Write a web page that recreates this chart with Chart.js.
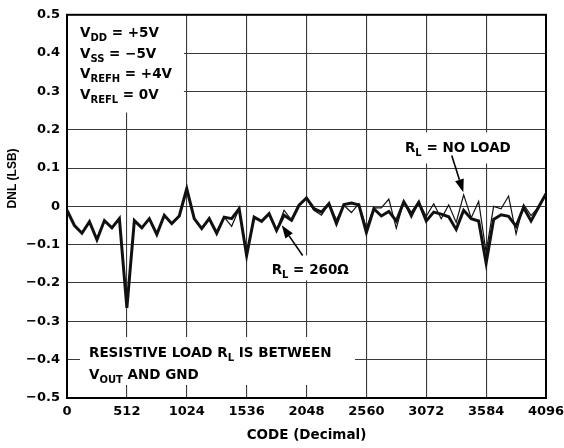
<!DOCTYPE html>
<html>
<head>
<meta charset="utf-8">
<script src="https://cdn.jsdelivr.net/npm/chart.js@4.4.1/dist/chart.umd.min.js"></script>
<style>
  html, body { margin: 0; padding: 0; background: #fff; }
  canvas { display: block; }
</style>
</head>
<body>
<canvas id="c" width="564" height="448"></canvas>
<script>
// ---- data ----
const codes = [0,64,128,192,256,320,384,448,512,576,640,704,768,832,896,960,1024,
  1088,1152,1216,1280,1344,1408,1472,1536,1600,1664,1728,1792,1856,1920,1984,2048,
  2112,2176,2240,2304,2368,2432,2496,2560,2624,2688,2752,2816,2880,2944,3008,3072,
  3136,3200,3264,3328,3392,3456,3520,3584,3648,3712,3776,3840,3904,3968,4032,4096];

const dnl260 = [-0.010,-0.050,-0.070,-0.040,-0.087,-0.037,-0.056,-0.032,-0.265,
  -0.037,-0.056,-0.032,-0.073,-0.023,-0.045,-0.025,0.046,
  -0.032,-0.058,-0.032,-0.070,-0.028,-0.032,-0.006,-0.128,
  -0.028,-0.039,-0.019,-0.063,-0.023,-0.036,0.003,0.022,
  -0.006,-0.015,0.007,-0.045,0.005,0.009,0.004,-0.068,
  -0.006,-0.025,-0.013,-0.038,0.012,-0.020,0.011,-0.038,
  -0.015,-0.020,-0.027,-0.060,-0.010,-0.032,-0.038,-0.148,
  -0.034,-0.022,-0.026,-0.052,-0.003,-0.038,-0.002,0.033];

const dnlNoLoad = [-0.010,-0.050,-0.070,-0.040,-0.087,-0.037,-0.056,-0.032,-0.265,
  -0.037,-0.056,-0.032,-0.073,-0.023,-0.045,-0.025,0.046,
  -0.032,-0.058,-0.032,-0.070,-0.028,-0.052,-0.006,-0.122,
  -0.028,-0.039,-0.019,-0.063,-0.010,-0.036,0.003,0.022,
  -0.010,-0.023,0.007,-0.035,0.003,-0.016,0.007,-0.056,
  -0.004,-0.004,0.019,-0.057,0.013,-0.030,0.011,-0.026,
  0.007,-0.032,0.004,-0.042,0.030,-0.030,0.013,-0.120,
  0.000,-0.006,0.027,-0.072,0.005,-0.024,-0.002,0.033];

const xTickValues = [0,512,1024,1536,2048,2560,3072,3584,4096];
const yTickValues = [-0.5,-0.4,-0.3,-0.2,-0.1,0,0.1,0.2,0.3,0.4,0.5];
const yTickLabels = ['\u22120.5','\u22120.4','\u22120.3','\u22120.2','\u22120.1','0','0.1','0.2','0.3','0.4','0.5'];

const xTitle = 'CODE (Decimal)';
const yTitle = 'DNL (LSB)';

// ---- annotations (positions in data units) ----
const whiteBoxes = [
  {x0: 0,    x1: 1000, y0: 0.5,   y1: 0.245},
  {x0: 111,  x1: 2463, y0: -0.341, y1: -0.466},
  {x0: 2805, x1: 3916, y0: 0.193, y1: 0.112},
  {x0: 1693, x1: 2463, y0: -0.128, y1: -0.193}
];
const noteLines = [
  {x: 111, y: 0.441, parts: [['V'],['DD',1],[' = +5V']]},
  {x: 111, y: 0.388, parts: [['V'],['SS',1],[' = \u22125V']]},
  {x: 111, y: 0.334, parts: [['V'],['REFH',1],[' = +4V']]},
  {x: 111, y: 0.279, parts: [['V'],['REFL',1],[' = 0V']]},
  {x: 188, y: -0.392, parts: [['RESISTIVE LOAD R'],['L',1],[' IS BETWEEN']]},
  {x: 188, y: -0.451, parts: [['V'],['OUT',1],[' AND GND']]},
  {x: 2890, y: 0.141, parts: [['R'],['L',1],[' = NO LOAD']]},
  {x: 1750, y: -0.177, parts: [['R'],['L',1],[' = 260\u03A9']]}
];
const arrows = [
  {x0: 3290, y0: 0.133, x1: 3389, y1: 0.037},
  {x0: 2015, y0: -0.128, x1: 1836, y1: -0.049}
];

const FONT = '"DejaVu Sans", sans-serif';

const annotPlugin = {
  id: 'annot',
  beforeDatasetsDraw(chart) {
    const {ctx, chartArea: a, scales: {x, y}} = chart;
    ctx.save();
    ctx.fillStyle = '#fff';
    whiteBoxes.forEach(b => {
      const px0 = x.getPixelForValue(b.x0), px1 = x.getPixelForValue(b.x1);
      const py0 = y.getPixelForValue(b.y0), py1 = y.getPixelForValue(b.y1);
      ctx.fillRect(Math.min(px0, px1), Math.min(py0, py1), Math.abs(px1 - px0), Math.abs(py1 - py0));
    });
    ctx.strokeStyle = '#000';
    ctx.lineWidth = 2;
    ctx.strokeRect(a.left, a.top, a.right - a.left, a.bottom - a.top);
    ctx.fillStyle = '#000';
    ctx.textBaseline = 'alphabetic';
    ctx.textAlign = 'left';
    noteLines.forEach(n => {
      let px = x.getPixelForValue(n.x);
      const py = y.getPixelForValue(n.y);
      n.parts.forEach(p => {
        if (p[1]) {
          ctx.font = 'bold 10px ' + FONT;
          ctx.fillText(p[0], px, py + 4);
        } else {
          ctx.font = 'bold 13.5px ' + FONT;
          ctx.fillText(p[0], px, py);
        }
        px += ctx.measureText(p[0]).width;
      });
    });
    // rotated y title
    ctx.save();
    ctx.translate(12.5, y.getPixelForValue(0.073));
    ctx.rotate(-Math.PI / 2);
    ctx.textAlign = 'center';
    ctx.textBaseline = 'middle';
    ctx.font = 'bold 12px "Liberation Sans", Arial, sans-serif';
    ctx.fillText(yTitle, 0, 0);
    ctx.restore();
    ctx.restore();
  },
  afterDatasetsDraw(chart) {
    const {ctx, scales: {x, y}} = chart;
    ctx.save();
    ctx.strokeStyle = '#000';
    ctx.fillStyle = '#000';
    arrows.forEach(ar => {
      const x0 = x.getPixelForValue(ar.x0), y0 = y.getPixelForValue(ar.y0);
      const x1 = x.getPixelForValue(ar.x1), y1 = y.getPixelForValue(ar.y1);
      const ang = Math.atan2(y1 - y0, x1 - x0);
      const hl = 13, hw = 4.5;
      const bx = x1 - hl * Math.cos(ang), by = y1 - hl * Math.sin(ang);
      ctx.lineWidth = 1.6;
      ctx.beginPath();
      ctx.moveTo(x0, y0);
      ctx.lineTo(bx, by);
      ctx.stroke();
      ctx.beginPath();
      ctx.moveTo(x1, y1);
      ctx.lineTo(bx + hw * Math.sin(ang), by - hw * Math.cos(ang));
      ctx.lineTo(bx - hw * Math.sin(ang), by + hw * Math.cos(ang));
      ctx.closePath();
      ctx.fill();
    });
    ctx.restore();
  }
};

const tickFont = {family: FONT, size: 13, weight: 'bold'};

new Chart(document.getElementById('c'), {
  type: 'line',
  data: {
    datasets: [
      {
        label: 'RL = NO LOAD',
        data: codes.map((c, i) => ({x: c, y: dnlNoLoad[i]})),
        borderColor: '#111',
        borderWidth: 1.2,
        pointRadius: 0,
        tension: 0,
        fill: false
      },
      {
        label: 'RL = 260\u03A9',
        data: codes.map((c, i) => ({x: c, y: dnl260[i]})),
        borderColor: '#111',
        borderWidth: 3,
        pointRadius: 0,
        tension: 0,
        fill: false
      }
    ]
  },
  options: {
    responsive: false,
    animation: false,
    devicePixelRatio: 1,
    layout: {padding: {top: 14, right: 18, bottom: 0, left: 0}},
    plugins: {legend: {display: false}, tooltip: {enabled: false}},
    scales: {
      x: {
        type: 'linear',
        min: 0, max: 4096,
        afterBuildTicks: s => { s.ticks = xTickValues.map(v => ({value: v})); },
        afterFit: s => { s.height = 50; s.paddingLeft = 0; s.paddingRight = 0; },
        ticks: {font: tickFont, color: '#000', padding: 6, maxRotation: 0, autoSkip: false,
                callback: v => String(v)},
        grid: {color: '#3a3a3a', lineWidth: 1.1, drawTicks: false},
        border: {display: true, color: '#000', width: 2},
        title: {display: true, text: xTitle, color: '#000',
                font: {family: FONT, size: 13.5, weight: 'bold'}, padding: {top: 2, bottom: 4}}
      },
      y: {
        type: 'linear',
        min: -0.5, max: 0.5,
        afterBuildTicks: s => { s.ticks = yTickValues.map(v => ({value: v})); },
        afterFit: s => { s.width = 67; },
        ticks: {font: tickFont, color: '#000', padding: 7, autoSkip: false,
                callback: v => {
                  const i = yTickValues.findIndex(t => Math.abs(t - v) < 1e-9);
                  return i >= 0 ? yTickLabels[i] : '';
                }},
        grid: {color: '#3a3a3a', lineWidth: 1.1, drawTicks: false},
        border: {display: true, color: '#000', width: 2}
      }
    }
  },
  plugins: [annotPlugin]
});
</script>
</body>
</html>
